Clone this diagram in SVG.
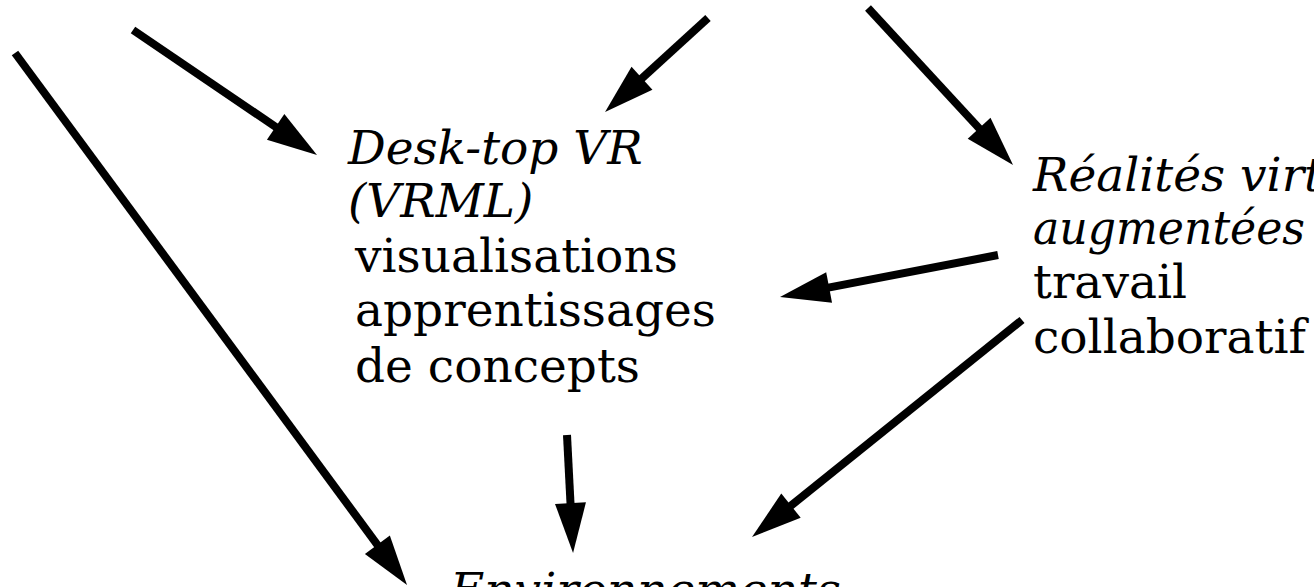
<svg xmlns="http://www.w3.org/2000/svg" width="1314" height="587" viewBox="0 0 1314 587">
<defs>
<style>
text{font-family:"DejaVu Serif","Liberation Serif",serif;font-size:47px;fill:#000}
.it{font-style:italic}
.c line{stroke:#000;stroke-width:8;stroke-linecap:butt;marker-end:url(#ah)}
</style>
<marker id="ah" markerUnits="userSpaceOnUse" markerWidth="50" markerHeight="31" refX="10" refY="15.5" orient="auto" overflow="visible">
<path d="M0,0 L50,15.5 L0,31 Z" fill="#000"/>
</marker>
</defs>
<rect width="1314" height="587" fill="#fff"/>
<g id="desktop">
<text class="it" x="348" y="164">Desk-top VR</text>
<text class="it" x="348" y="217">(VRML)</text>
<text x="355" y="272">visualisations</text>
<text x="355" y="326">apprentissages</text>
<text x="355" y="382">de concepts</text>
</g>
<g id="realites">
<text class="it" x="1033" y="191">Réalités virtuelles</text>
<text class="it" x="1033" y="244" textLength="272" lengthAdjust="spacingAndGlyphs">augmentées</text>
<text x="1033" y="298">travail</text>
<text x="1033" y="353">collaboratif</text>
</g>
<g id="environnements">
<text class="it" x="450" y="606">Environnements</text>
</g>
<g class="c" id="connectors">
<line x1="15" y1="53" x2="383.3" y2="552.8"/>
<line x1="133" y1="30" x2="283.9" y2="132.5"/>
<line x1="708" y1="18" x2="634.6" y2="85"/>
<line x1="868" y1="8" x2="985.9" y2="135.6"/>
<line x1="998" y1="255" x2="819.3" y2="289.4"/>
<line x1="1022" y1="320" x2="783.2" y2="511.9"/>
<line x1="567" y1="435" x2="571" y2="513.1"/>
</g>
</svg>
